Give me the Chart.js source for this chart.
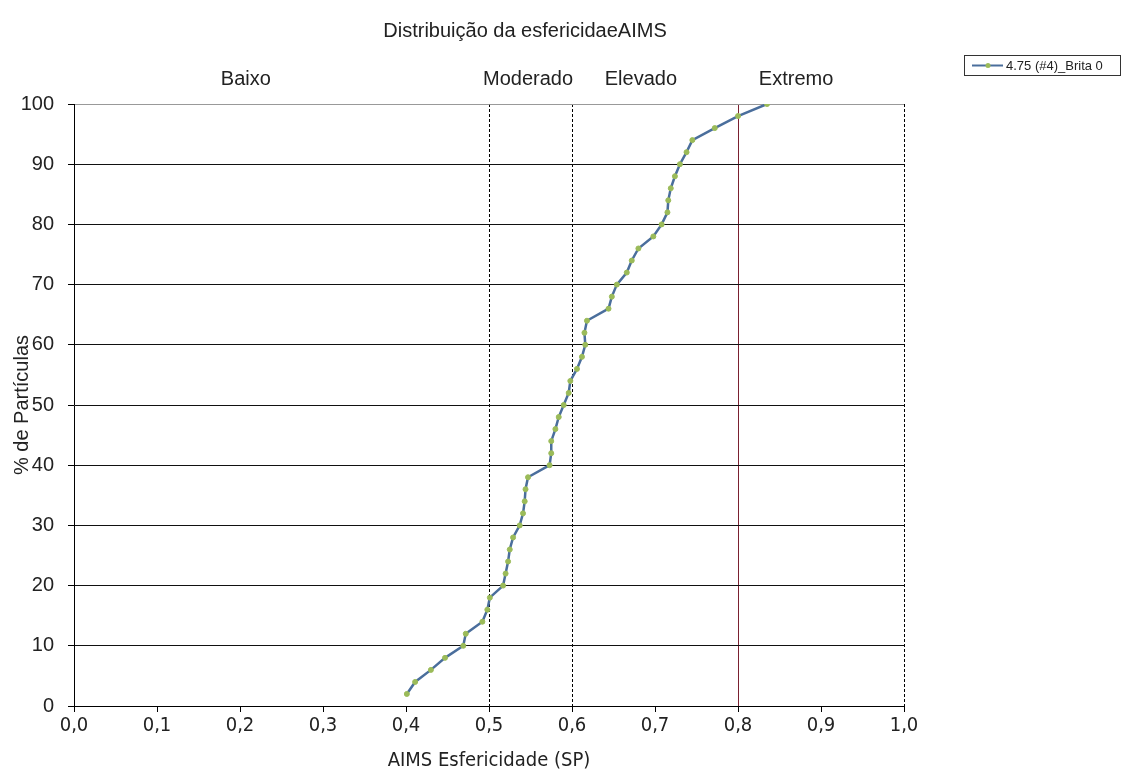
<!DOCTYPE html>
<html>
<head>
<meta charset="utf-8">
<title>Distribuição da esfericidade AIMS</title>
<script src="https://cdn.jsdelivr.net/npm/chart.js@4/dist/chart.umd.min.js"></script>
<style>
  body { margin: 0; background: #fff; }
  canvas { display: block; }
</style>
</head>
<body>
<canvas id="chart" width="1127" height="771"></canvas>
<script>
// AIMS sphericity (SP) for each cumulative particle percentage
let esfericidade = [0.401, 0.411, 0.430, 0.447, 0.469, 0.472, 0.492, 0.498, 0.501, 0.517,
                    0.520, 0.523, 0.525, 0.529, 0.537, 0.541, 0.543, 0.544, 0.547, 0.573,
                    0.575, 0.575, 0.580, 0.584, 0.590, 0.596, 0.598, 0.606, 0.612, 0.616,
                    0.615, 0.618, 0.644, 0.648, 0.654, 0.666, 0.672, 0.680, 0.698, 0.708,
                    0.715, 0.716, 0.719, 0.724, 0.730, 0.738, 0.745, 0.772, 0.800, 0.835];
let percentual = [2, 4, 6, 8, 10, 12, 14, 16, 18, 20,
                  22, 24, 26, 28, 30, 32, 34, 36, 38, 40,
                  42, 44, 46, 48, 50, 52, 54, 56, 58, 60,
                  62, 64, 66, 68, 70, 72, 74, 76, 78, 80,
                  82, 84, 86, 88, 90, 92, 94, 96, 98, 100];

let serie_nome = '4.75 (#4)_Brita 0';
let classes = ['Baixo', 'Moderado', 'Elevado', 'Extremo'];
let limites_tracejados = [0.5, 0.6, 1.0];
let limite_extremo = 0.8;

// where the class names sit, in SP units along the x axis
let classes_pos = [0.207, 0.547, 0.683, 0.87];

let ctx = document.getElementById('chart');

let pontos = [];
for (let i = 0; i < esfericidade.length; ++i) {
  pontos.push({x: esfericidade[i], y: percentual[i]});
}

function near(v, list) {
  return list.some(l => Math.abs(l - v) < 1e-6);
}

let narrow = "'Liberation Sans Narrow', 'DejaVu Sans Condensed', 'Liberation Sans', sans-serif";
let sans = "'Liberation Sans', Arial, sans-serif";

// title, class names and the boxed legend
let extras = {
  id: 'extras',
  afterDraw(chart) {
    let c = chart.ctx;
    let area = chart.chartArea;
    let xs = chart.scales.x;
    c.save();
    c.fillStyle = '#222';
    c.textAlign = 'center';
    c.textBaseline = 'middle';
    c.font = '20px ' + sans;
    c.fillText('Distribuição da esfericidaeAIMS', 525, 31);
    for (let i = 0; i < classes.length; ++i) {
      c.fillText(classes[i], xs.getPixelForValue(classes_pos[i]), area.top - 25);
    }

    let ds = chart.data.datasets[0];
    c.strokeStyle = '#333';
    c.lineWidth = 1;
    c.strokeRect(964.5, 55.5, 156, 20);
    c.strokeStyle = ds.borderColor;
    c.lineWidth = 2;
    c.beginPath();
    c.moveTo(972, 65.5);
    c.lineTo(1003, 65.5);
    c.stroke();
    c.fillStyle = ds.pointBackgroundColor;
    c.beginPath();
    c.arc(988, 65.5, 2.5, 0, Math.PI * 2);
    c.fill();
    c.fillStyle = '#222';
    c.textAlign = 'left';
    c.font = '13px ' + sans;
    c.fillText(ds.label, 1006, 66);
    c.restore();
  }
};

let chart = new Chart(ctx, {
  type: 'scatter',
  data: {
    datasets: [{
      label: serie_nome,
      data: pontos,
      showLine: true,
      borderColor: '#4a6e9c',
      borderWidth: 2.5,
      pointRadius: 2.5,
      pointBackgroundColor: '#9bbb59',
      pointBorderColor: '#9bbb59',
      pointBorderWidth: 1
    }]
  },
  options: {
    responsive: false,
    animation: false,
    layout: { padding: { top: 104, right: 223, left: 0, bottom: 0 } },
    plugins: {
      legend: { display: false },
      tooltip: { enabled: false }
    },
    scales: {
      x: {
        type: 'linear',
        min: 0,
        max: 1,
        afterFit: s => { s.height = 65; },
        ticks: {
          stepSize: 0.1,
          padding: 2,
          color: '#222',
          font: { family: narrow, size: 20 },
          callback: v => v.toFixed(1).replace('.', ',')
        },
        grid: {
          tickLength: 6,
          tickColor: '#000',
          lineWidth: 1,
          color: c => {
            if (!c.tick) return 'transparent';
            if (near(c.tick.value, [limite_extremo])) return '#7a2030';
            if (near(c.tick.value, limites_tracejados)) return '#000';
            return 'transparent';
          }
        },
        border: {
          color: '#000',
          width: 1,
          dash: c => (c.tick && near(c.tick.value, limites_tracejados)) ? [3, 2] : []
        },
        title: {
          display: true,
          text: 'AIMS Esfericidade (SP)',
          color: '#222',
          font: { family: narrow, size: 20, lineHeight: 1 },
          padding: { top: 0, bottom: 0 }
        }
      },
      y: {
        min: 0,
        max: 100,
        afterFit: s => { s.width = 74; },
        ticks: {
          stepSize: 10,
          padding: 14,
          color: '#222',
          font: { family: sans, size: 20 }
        },
        grid: {
          tickLength: 6,
          tickColor: '#000',
          lineWidth: 1,
          color: c => (c.tick && c.tick.value === 100) ? '#999' : '#111'
        },
        border: { color: '#000', width: 1 },
        title: {
          display: true,
          text: '% de Partículas',
          color: '#222',
          font: { family: sans, size: 20, lineHeight: 1 },
          padding: { top: 12, bottom: 0 }
        }
      }
    }
  },
  plugins: [extras]
});
</script>
</body>
</html>
